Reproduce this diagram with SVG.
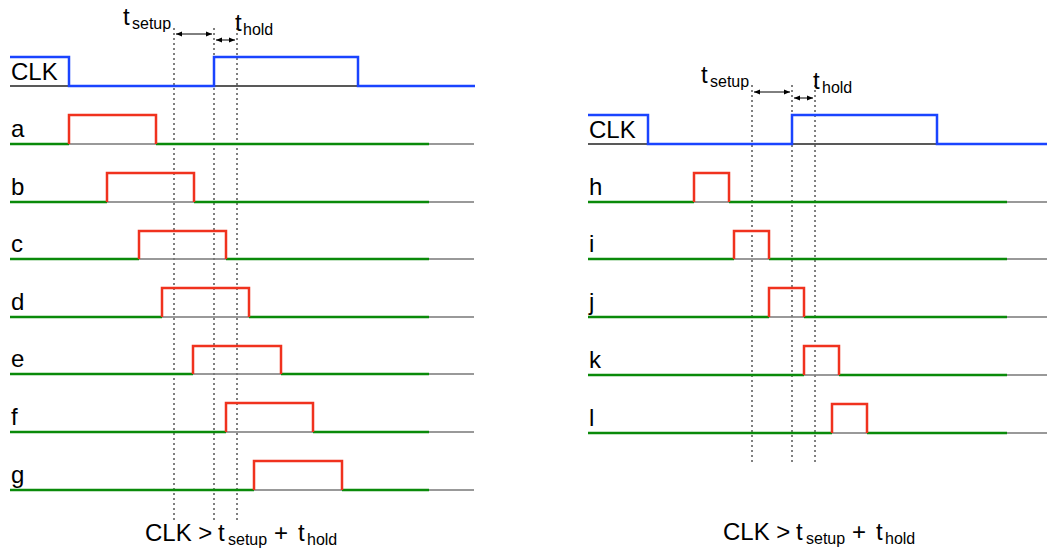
<svg xmlns="http://www.w3.org/2000/svg" width="1047" height="552" viewBox="0 0 1047 552">
<defs>
<marker id="ah" viewBox="0 0 10 10" refX="10" refY="5" markerWidth="6" markerHeight="6" orient="auto-start-reverse" markerUnits="userSpaceOnUse"><path d="M0,1 L10,5 L0,9 z" fill="#000"/></marker>
<style>
.t{font-family:"Liberation Sans",Arial,sans-serif;font-size:24px;fill:#000}
.s{font-size:16px}
.base{stroke:#777;stroke-width:1.5;fill:none}
.kb{stroke:#222;stroke-width:1.5;fill:none}
.g{stroke:#0a8a0a;stroke-width:2.5;fill:none}
.r{stroke:#f0321e;stroke-width:2.5;fill:none}
.b{stroke:#1a44ff;stroke-width:2.5;fill:none}
.dot{stroke:#000;stroke-width:1;stroke-dasharray:2,3;fill:none}
.ar{stroke:#000;stroke-width:1;fill:none}
</style>
</defs>
<rect width="1047" height="552" fill="#fff"/>

<g id="connectors">
<!-- left guides -->
<line class="dot" x1="174" y1="28" x2="174" y2="520"/>
<line class="dot" x1="214" y1="28" x2="214" y2="520"/>
<line class="dot" x1="237" y1="28" x2="237" y2="520"/>
<line class="ar" x1="176" y1="34" x2="212" y2="34" marker-start="url(#ah)" marker-end="url(#ah)"/>
<line class="ar" x1="216" y1="40" x2="235" y2="40" marker-start="url(#ah)" marker-end="url(#ah)"/>
<!-- right guides -->
<line class="dot" x1="752" y1="85" x2="752" y2="463"/>
<line class="dot" x1="792" y1="85" x2="792" y2="463"/>
<line class="dot" x1="815" y1="85" x2="815" y2="463"/>
<line class="ar" x1="754" y1="92" x2="790" y2="92" marker-start="url(#ah)" marker-end="url(#ah)"/>
<line class="ar" x1="794" y1="98" x2="813" y2="98" marker-start="url(#ah)" marker-end="url(#ah)"/>
</g>

<g id="labels-left">
<text class="t" x="123" y="25">t<tspan class="s" x="132" y="29">setup</tspan></text>
<text class="t" x="235" y="31">t<tspan class="s" x="243" y="35">hold</tspan></text>
<text class="t" x="145" y="541">CLK &gt; <tspan x="218">t</tspan><tspan class="s" x="228" y="545">setup</tspan><tspan x="274" y="541">+</tspan><tspan x="298">t</tspan><tspan class="s" x="307" y="545">hold</tspan></text>
</g>
<g id="labels-right">
<text class="t" x="701" y="83">t<tspan class="s" x="710" y="87">setup</tspan></text>
<text class="t" x="813" y="89">t<tspan class="s" x="822" y="93">hold</tspan></text>
<text class="t" x="723" y="540">CLK &gt; <tspan x="796">t</tspan><tspan class="s" x="806" y="544">setup</tspan><tspan x="852" y="540">+</tspan><tspan x="876">t</tspan><tspan class="s" x="885" y="544">hold</tspan></text>
</g>

<g id="clk-left">
<line class="kb" x1="10" y1="86" x2="474" y2="86"/>
<path class="b" d="M10,57 H69 V86 H214 V57 H358 V86 H475"/>
<text class="t" x="11" y="80">CLK</text>
</g>
<g id="sig-a"><line class="base" x1="10" y1="144" x2="474" y2="144"/><path class="g" d="M10,144 H69 M156,144 H429"/><path class="r" d="M69,144 V115 H156 V144"/><text class="t" x="11" y="137">a</text></g>
<g id="sig-b"><line class="base" x1="10" y1="202" x2="474" y2="202"/><path class="g" d="M10,202 H107 M194,202 H429"/><path class="r" d="M107,202 V173 H194 V202"/><text class="t" x="11" y="195">b</text></g>
<g id="sig-c"><line class="base" x1="10" y1="259" x2="474" y2="259"/><path class="g" d="M10,259 H139 M226,259 H429"/><path class="r" d="M139,259 V231 H226 V259"/><text class="t" x="11" y="252">c</text></g>
<g id="sig-d"><line class="base" x1="10" y1="317" x2="474" y2="317"/><path class="g" d="M10,317 H162 M249,317 H429"/><path class="r" d="M162,317 V288 H249 V317"/><text class="t" x="11" y="310">d</text></g>
<g id="sig-e"><line class="base" x1="10" y1="374" x2="474" y2="374"/><path class="g" d="M10,374 H193 M281,374 H429"/><path class="r" d="M193,374 V346 H281 V374"/><text class="t" x="11" y="367">e</text></g>
<g id="sig-f"><line class="base" x1="10" y1="432" x2="474" y2="432"/><path class="g" d="M10,432 H226 M313,432 H429"/><path class="r" d="M226,432 V403 H313 V432"/><text class="t" x="11" y="425">f</text></g>
<g id="sig-g"><line class="base" x1="10" y1="490" x2="474" y2="490"/><path class="g" d="M10,490 H254 M342,490 H429"/><path class="r" d="M254,490 V461 H342 V490"/><text class="t" x="11" y="483">g</text></g>

<g id="clk-right">
<line class="kb" x1="588" y1="144" x2="1047" y2="144"/>
<path class="b" d="M588,115 H648 V144 H792 V115 H937 V144 H1047"/>
<text class="t" x="589" y="138">CLK</text>
</g>
<g id="sig-h"><line class="base" x1="588" y1="202" x2="1047" y2="202"/><path class="g" d="M588,202 H694 M729,202 H1007"/><path class="r" d="M694,202 V173 H729 V202"/><text class="t" x="589" y="195">h</text></g>
<g id="sig-i"><line class="base" x1="588" y1="259" x2="1047" y2="259"/><path class="g" d="M588,259 H734 M769,259 H1007"/><path class="r" d="M734,259 V231 H769 V259"/><text class="t" x="589" y="252">i</text></g>
<g id="sig-j"><line class="base" x1="588" y1="317" x2="1047" y2="317"/><path class="g" d="M588,317 H769 M804,317 H1007"/><path class="r" d="M769,317 V288 H804 V317"/><text class="t" x="589" y="310">j</text></g>
<g id="sig-k"><line class="base" x1="588" y1="375" x2="1047" y2="375"/><path class="g" d="M588,375 H804 M839,375 H1007"/><path class="r" d="M804,375 V346 H839 V375"/><text class="t" x="589" y="368">k</text></g>
<g id="sig-l"><line class="base" x1="588" y1="433" x2="1047" y2="433"/><path class="g" d="M588,433 H832 M867,433 H1007"/><path class="r" d="M832,433 V404 H867 V433"/><text class="t" x="589" y="426">l</text></g>
</svg>
